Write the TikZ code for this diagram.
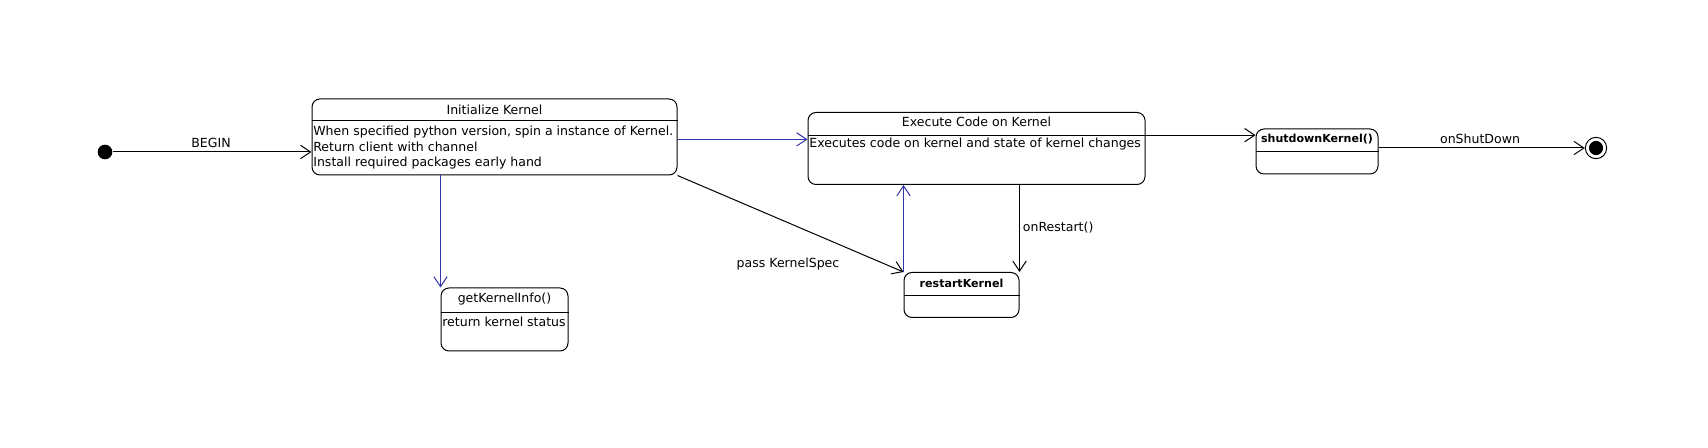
\documentclass[tikz,border=0pt]{standalone}
\usepackage{fontspec}
\setmainfont{DejaVu Sans}
\usetikzlibrary{arrows.meta}
\definecolor{umlblue}{RGB}{51,51,170}
\begin{document}
\begin{tikzpicture}[x=0.75pt,y=-0.75pt,line width=0.75pt,
  font=\fontsize{9.4}{11.8}\selectfont,
  statebox/.style 2 args={draw,rounded corners=6pt,inner sep=0pt,
    minimum width=#1*0.75pt,minimum height=#2*0.75pt},
  boldtitle/.style={font=\fontsize{8.3}{11}\selectfont\bfseries},
  arr/.style={-{Straight Barb[length=7.5pt,width=10pt]}}]

\useasboundingbox (0,0) rectangle (1708,448);

\node [circle,fill,inner sep=0pt,minimum size=11pt] (start) at (105,152) {};
\node [circle,draw,inner sep=0pt,minimum size=16pt] (fin) at (1596,148) {};
\fill (fin) circle (5.3pt);

\node [statebox={365}{76}] (init) at (494.5,137) {};
\node [statebox={337}{72}] (exec) at (976.5,148.5) {};
\node [statebox={122}{45}] (shut) at (1317,151.5) {};
\node [statebox={115}{45}] (restart) at (961.5,295) {};
\node [statebox={127}{63}] (info) at (504.5,319.5) {};

\draw (init.west |- 0,121) -- (init.east |- 0,121);
\draw (exec.west |- 0,136) -- (exec.east |- 0,136);
\draw (shut.west |- 0,152) -- (shut.east |- 0,152);
\draw (restart.west |- 0,296) -- (restart.east |- 0,296);
\draw (info.west |- 0,313) -- (info.east |- 0,313);

\node (inittitle) at (init.north |- 0,110) {Initialize Kernel};
\node [anchor=north west,align=left,inner sep=1pt] (initbody) at (init.west |- 0,124)
  {When specified python version, spin a instance of Kernel.\\
   Return client with channel\\
   Install required packages early hand};
\node (exectitle) at (exec.north |- 0,122) {Execute Code on Kernel};
\node [anchor=west,inner sep=1pt] (execbody) at (exec.west |- 0,144.5)
  {Executes code on kernel and state of kernel changes};
\node [boldtitle] (shuttitle) at (shut.north |- 0,139) {shutdownKernel()};
\node [boldtitle] (restarttitle) at (restart.north |- 0,283) {restartKernel};
\node (infotitle) at (info.north |- 0,299) {getKernelInfo()};
\node [anchor=west,inner sep=1pt] (infobody) at (info.west |- 0,322) {return kernel status};

% transitions
\draw [arr] (start) -- (start -| init.west);
\draw [arr,umlblue] ([yshift=-1.8pt]init.east) -- ([yshift=-1.8pt]init.east -| exec.west);
\draw [arr] ([yshift=10pt]exec.east) -- ([yshift=10pt]exec.east -| shut.west);
\draw [arr] (shut.east |- fin) -- (fin);
\draw [arr,umlblue] (init.south -| info.west) -- (info.north west);
\draw [arr] (init.south east) -- (restart.north west);
\draw [arr,umlblue] (restart.north west) -- (restart.north west |- exec.south);
\draw [arr] (exec.south -| restart.north east) -- (restart.north east);

\node (lbegin) at (211,143) {BEGIN};
\node (lshut) at (1480,139) {onShutDown};
\node (lpass) at (788,264) {pass KernelSpec};
\node [anchor=west] (lrestart) at (1018,228) {onRestart()};

\end{tikzpicture}
\end{document}
